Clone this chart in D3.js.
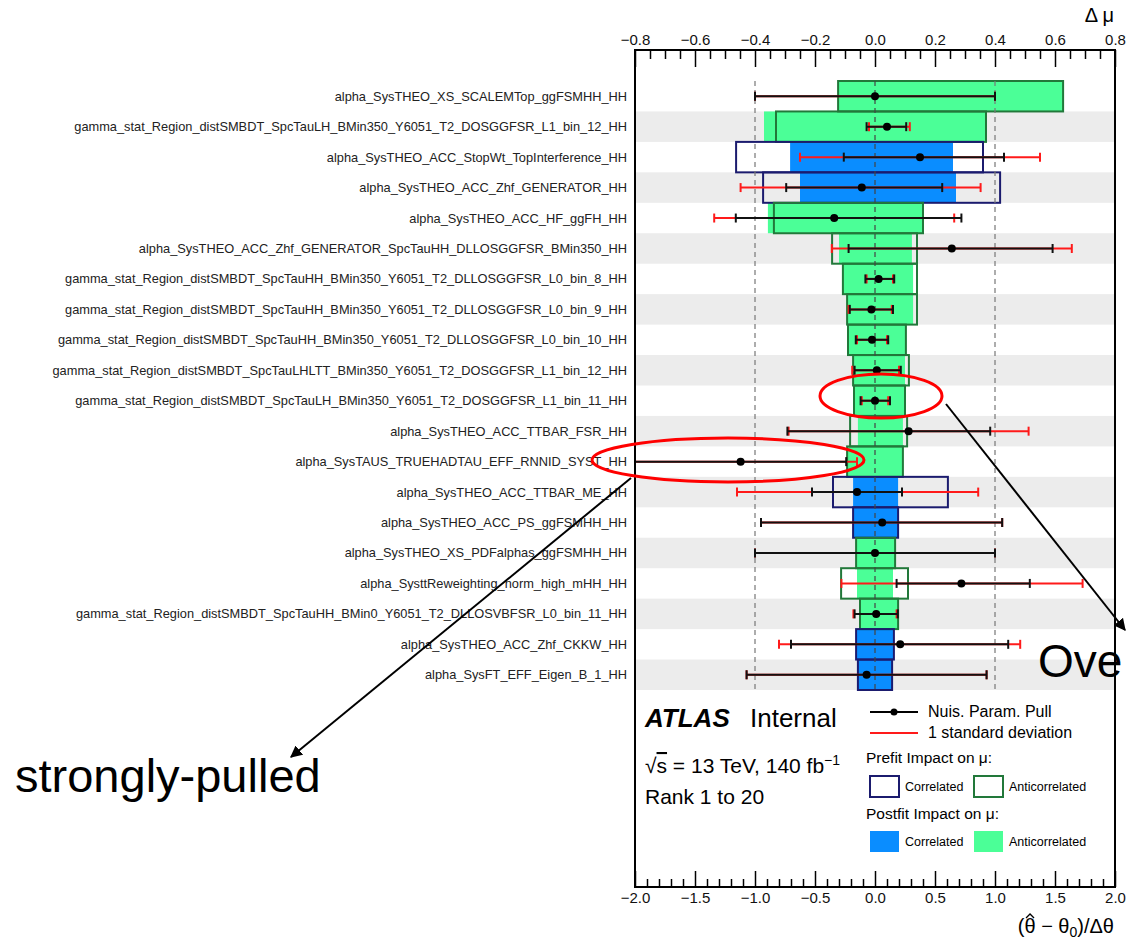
<!DOCTYPE html>
<html>
<head>
<meta charset="utf-8">
<script src="https://cdn.jsdelivr.net/npm/d3@7"></script>
<style>
  body { margin: 0; background: #fff; }
  text { font-family: "Liberation Sans", Arial, Helvetica, sans-serif; }
</style>
</head>
<body>
<div id="chart"></div>
<script>
  // nuisance parameters, ranked 1 to 20
  var labels = [
    "alpha_SysTHEO_XS_SCALEMTop_ggFSMHH_HH",
    "gamma_stat_Region_distSMBDT_SpcTauLH_BMin350_Y6051_T2_DOSGGFSR_L1_bin_12_HH",
    "alpha_SysTHEO_ACC_StopWt_TopInterference_HH",
    "alpha_SysTHEO_ACC_Zhf_GENERATOR_HH",
    "alpha_SysTHEO_ACC_HF_ggFH_HH",
    "alpha_SysTHEO_ACC_Zhf_GENERATOR_SpcTauHH_DLLOSGGFSR_BMin350_HH",
    "gamma_stat_Region_distSMBDT_SpcTauHH_BMin350_Y6051_T2_DLLOSGGFSR_L0_bin_8_HH",
    "gamma_stat_Region_distSMBDT_SpcTauHH_BMin350_Y6051_T2_DLLOSGGFSR_L0_bin_9_HH",
    "gamma_stat_Region_distSMBDT_SpcTauHH_BMin350_Y6051_T2_DLLOSGGFSR_L0_bin_10_HH",
    "gamma_stat_Region_distSMBDT_SpcTauLHLTT_BMin350_Y6051_T2_DOSGGFSR_L1_bin_12_HH",
    "gamma_stat_Region_distSMBDT_SpcTauLH_BMin350_Y6051_T2_DOSGGFSR_L1_bin_11_HH",
    "alpha_SysTHEO_ACC_TTBAR_FSR_HH",
    "alpha_SysTAUS_TRUEHADTAU_EFF_RNNID_SYST_HH",
    "alpha_SysTHEO_ACC_TTBAR_ME_HH",
    "alpha_SysTHEO_ACC_PS_ggFSMHH_HH",
    "alpha_SysTHEO_XS_PDFalphas_ggFSMHH_HH",
    "alpha_SysttReweighting_norm_high_mHH_HH",
    "gamma_stat_Region_distSMBDT_SpcTauHH_BMin0_Y6051_T2_DLLOSVBFSR_L0_bin_11_HH",
    "alpha_SysTHEO_ACC_Zhf_CKKW_HH",
    "alpha_SysFT_EFF_Eigen_B_1_HH"
  ];

  // correlated (blue) or anticorrelated (green) impact
  var impactType = ["anti", "anti", "corr", "corr", "anti", "anti", "anti", "anti", "anti", "anti",
                    "anti", "anti", "anti", "corr", "corr", "anti", "anti", "anti", "corr", "corr"];

  // impact on mu (top axis)
  var prefitLo  = [-0.123, -0.33, -0.463, -0.373, -0.337, -0.143, -0.107, -0.093, -0.09, -0.073,
                   -0.07, -0.083, -0.093, -0.14, -0.073, -0.063, -0.113, -0.05, -0.063, -0.057];
  var prefitHi  = [0.627, 0.37, 0.36, 0.417, 0.16, 0.14, 0.14, 0.14, 0.103, 0.113,
                   0.1, 0.107, 0.093, 0.243, 0.077, 0.067, 0.11, 0.077, 0.063, 0.057];
  var postfitLo = [-0.123, -0.37, -0.283, -0.25, -0.357, -0.12, -0.107, -0.093, -0.09, -0.073,
                   -0.07, -0.057, -0.09, -0.073, -0.073, -0.063, -0.06, -0.05, -0.063, -0.057];
  var postfitHi = [0.627, 0.37, 0.26, 0.27, 0.16, 0.123, 0.127, 0.127, 0.1, 0.1,
                   0.1, 0.093, 0.093, 0.077, 0.077, 0.067, 0.06, 0.077, 0.06, 0.057];

  // pulls (bottom axis)
  var pullVal = [0.0, 0.10, 0.375, -0.11, -0.34, 0.64, 0.03, -0.03, -0.025, 0.015,
                 0.0, 0.28, -1.12, -0.15, 0.06, 0.0, 0.72, 0.01, 0.21, -0.07];
  var pullLo  = [-1.0, -0.07, -0.26, -0.74, -1.16, -0.22, -0.08, -0.21, -0.16, -0.17,
                 -0.12, -0.73, -2.0, -0.525, -0.95, -1.0, 0.18, -0.17, -0.7, -1.07];
  var pullHi  = [1.0, 0.26, 1.075, 0.56, 0.72, 1.48, 0.16, 0.15, 0.11, 0.215,
                 0.125, 0.96, -0.24, 0.225, 1.06, 1.0, 1.29, 0.19, 1.11, 0.93];
  var sdLo    = [-1.0, -0.05, -0.625, -1.12, -1.34, -0.36, -0.07, -0.22, -0.15, -0.19,
                 -0.11, -0.72, -2.0, -1.15, -0.95, -1.0, -0.28, -0.18, -0.8, -1.07];
  var sdHi    = [1.0, 0.29, 1.375, 0.88, 0.66, 1.64, 0.15, 0.14, 0.10, 0.2,
                 0.11, 1.28, -0.15, 0.86, 1.06, 1.0, 1.73, 0.18, 1.21, 0.93];

  var impactTicks = [-0.8, -0.6, -0.4, -0.2, 0.0, 0.2, 0.4, 0.6, 0.8];
  var pullTicks = [-2.0, -1.5, -1.0, -0.5, 0.0, 0.5, 1.0, 1.5, 2.0];

  var colors = {
    corrFill: "#0a8dff",
    antiFill: "#4bff97",
    corrLine: "#1b1b6e",
    antiLine: "#22783a",
    band: "#ececec"
  };

  var svgWidth = 1127;
  var svgHeight = 943;
  var frame = { left: 635, right: 1115, top: 50, bottom: 887 };

  var svg = d3.select("#chart")
    .append("svg")
    .attr("width", svgWidth)
    .attr("height", svgHeight);

  var xImpact = d3.scaleLinear().domain([-0.8, 0.8]).range([frame.left, frame.right]);
  var xPull = d3.scaleLinear().domain([-2, 2]).range([frame.left, frame.right]);
  var y = d3.scaleBand().domain(d3.range(labels.length)).range([81, 690]);
  var bw = y.bandwidth();
  var cy = i => y(i) + bw / 2;

  // alternating grey bands
  svg.selectAll("rect.band")
    .data(d3.range(labels.length).filter(i => i % 2 == 1))
    .enter()
    .append("rect")
    .attr("class", "band")
    .attr("x", frame.left)
    .attr("y", d => y(d))
    .attr("width", frame.right - frame.left)
    .attr("height", bw)
    .attr("fill", colors.band);

  var rows = d3.range(labels.length);

  // postfit impact (filled)
  svg.selectAll("rect.post")
    .data(rows)
    .enter()
    .append("rect")
    .attr("class", "post")
    .attr("x", i => xImpact(postfitLo[i]))
    .attr("y", i => y(i))
    .attr("width", i => xImpact(postfitHi[i]) - xImpact(postfitLo[i]))
    .attr("height", bw)
    .attr("fill", i => impactType[i] == "corr" ? colors.corrFill : colors.antiFill);

  // prefit impact (outlined)
  svg.selectAll("rect.pre")
    .data(rows)
    .enter()
    .append("rect")
    .attr("class", "pre")
    .attr("x", i => xImpact(prefitLo[i]))
    .attr("y", i => y(i))
    .attr("width", i => xImpact(prefitHi[i]) - xImpact(prefitLo[i]))
    .attr("height", bw)
    .attr("fill", "none")
    .attr("stroke-width", 2)
    .attr("stroke", i => impactType[i] == "corr" ? colors.corrLine : colors.antiLine);

  // dashed guide lines at -1, 0, +1 sigma
  svg.selectAll("line.guide")
    .data([-1, 0, 1])
    .enter()
    .append("line")
    .attr("x1", d => xPull(d))
    .attr("x2", d => xPull(d))
    .attr("y1", y.range()[0])
    .attr("y2", y.range()[1])
    .attr("stroke", d => d == 0 ? "#444" : "#777")
    .attr("stroke-width", 1.2)
    .attr("stroke-dasharray", "5,4");

  function errorBars(lo, hi, color) {
    var g = svg.append("g").attr("stroke", color).attr("stroke-width", 2);
    g.selectAll("line.h")
      .data(rows)
      .enter()
      .append("line")
      .attr("x1", i => xPull(lo[i]))
      .attr("x2", i => xPull(hi[i]))
      .attr("y1", cy)
      .attr("y2", cy);
    g.selectAll("line.capl")
      .data(rows)
      .enter()
      .append("line")
      .attr("x1", i => xPull(lo[i]))
      .attr("x2", i => xPull(lo[i]))
      .attr("y1", i => cy(i) - 4.5)
      .attr("y2", i => cy(i) + 4.5);
    g.selectAll("line.caph")
      .data(rows)
      .enter()
      .append("line")
      .attr("x1", i => xPull(hi[i]))
      .attr("x2", i => xPull(hi[i]))
      .attr("y1", i => cy(i) - 4.5)
      .attr("y2", i => cy(i) + 4.5);
  }
  errorBars(sdLo, sdHi, "#ff1a1a");
  errorBars(pullLo, pullHi, "#111");

  svg.selectAll("circle.pull")
    .data(rows)
    .enter()
    .append("circle")
    .attr("cx", i => xPull(pullVal[i]))
    .attr("cy", cy)
    .attr("r", 4)
    .attr("fill", "#000");

  // parameter names
  svg.selectAll("text.np")
    .data(rows)
    .enter()
    .append("text")
    .attr("class", "np")
    .attr("x", 627)
    .attr("y", cy)
    .attr("dy", "0.35em")
    .attr("text-anchor", "end")
    .attr("font-size", "12.8px")
    .attr("fill", "#222")
    .text(i => labels[i]);

  // axes
  var fmt = d3.format(".1f");
  var minorImpact = d3.range(-16, 17).map(k => k * 0.05).filter((d, k) => k % 4 != 0);
  var minorPull = d3.range(-20, 21).map(k => k * 0.1).filter((d, k) => k % 5 != 0);

  svg.append("g")
    .attr("transform", `translate(0, ${frame.top})`)
    .call(d3.axisTop(xImpact).tickValues(impactTicks).tickFormat(fmt)
      .tickSizeInner(-17).tickSizeOuter(0).tickPadding(5));
  svg.append("g")
    .attr("transform", `translate(0, ${frame.top})`)
    .call(d3.axisTop(xImpact).tickValues(minorImpact).tickFormat("")
      .tickSizeInner(-9).tickSizeOuter(0));

  svg.append("g")
    .attr("transform", `translate(0, ${frame.bottom})`)
    .call(d3.axisBottom(xPull).tickValues(pullTicks).tickFormat(fmt)
      .tickSizeInner(-16).tickSizeOuter(0).tickPadding(5));
  svg.append("g")
    .attr("transform", `translate(0, ${frame.bottom})`)
    .call(d3.axisBottom(xPull).tickValues(minorPull).tickFormat("")
      .tickSizeInner(-8).tickSizeOuter(0));

  svg.selectAll(".domain").remove();
  svg.selectAll(".tick line").attr("stroke", "#000").attr("stroke-width", 1.5);
  svg.selectAll(".tick text")
    .attr("font-family", '"Liberation Sans", Arial, sans-serif')
    .attr("font-size", "15px")
    .attr("fill", "#111");

  // frame
  svg.append("rect")
    .attr("x", frame.left)
    .attr("y", frame.top)
    .attr("width", frame.right - frame.left)
    .attr("height", frame.bottom - frame.top)
    .attr("fill", "none")
    .attr("stroke", "#000")
    .attr("stroke-width", 2);

  // axis titles
  svg.append("text")
    .attr("x", 1114)
    .attr("y", 22)
    .attr("text-anchor", "end")
    .attr("font-size", "20px")
    .text("\u0394 \u03bc");

  var xt = svg.append("text")
    .attr("x", 1114)
    .attr("y", 933)
    .attr("text-anchor", "end")
    .attr("font-size", "20px");
  xt.append("tspan").text("(\u03b8 \u2212 \u03b8");
  xt.append("tspan").attr("dy", 4).attr("font-size", "14px").text("0");
  xt.append("tspan").attr("dy", -4).text(")/\u0394\u03b8");
  // hat over the first theta
  var th = xt.node().getExtentOfChar(1);
  var hx = th.x + th.width / 2;
  svg.append("path")
    .attr("d", `M${hx - 4},${th.y + 3} L${hx},${th.y - 1} L${hx + 4},${th.y + 3}`)
    .attr("fill", "none")
    .attr("stroke", "#000")
    .attr("stroke-width", 1.3);

  // ATLAS label block
  svg.append("text")
    .attr("x", 645).attr("y", 727)
    .attr("font-size", "26px").attr("font-weight", "bold").attr("font-style", "italic")
    .text("ATLAS");
  svg.append("text")
    .attr("x", 750).attr("y", 727)
    .attr("font-size", "26px")
    .text("Internal");

  var ecm = svg.append("text")
    .attr("x", 645).attr("y", 773)
    .attr("font-size", "21px");
  ecm.append("tspan").text("\u221a");
  ecm.append("tspan").attr("text-decoration", "overline").text("s");
  ecm.append("tspan").text(" = 13 TeV, 140 fb");
  ecm.append("tspan").attr("dy", -8).attr("font-size", "14px").text("\u22121");

  svg.append("text")
    .attr("x", 645).attr("y", 804)
    .attr("font-size", "21px")
    .text("Rank 1 to 20");

  // legend
  var leg = svg.append("g");
  leg.append("line").attr("x1", 870).attr("x2", 918).attr("y1", 712).attr("y2", 712)
    .attr("stroke", "#000").attr("stroke-width", 2);
  leg.append("circle").attr("cx", 894).attr("cy", 712).attr("r", 3.5).attr("fill", "#000");
  leg.append("text").attr("x", 928).attr("y", 717).attr("font-size", "16px").text("Nuis. Param. Pull");
  leg.append("line").attr("x1", 870).attr("x2", 918).attr("y1", 733).attr("y2", 733)
    .attr("stroke", "#ff1a1a").attr("stroke-width", 2);
  leg.append("text").attr("x", 928).attr("y", 738).attr("font-size", "16px").text("1 standard deviation");

  leg.append("text").attr("x", 866).attr("y", 763).attr("font-size", "15.5px").text("Prefit Impact on \u03bc:");
  leg.append("text").attr("x", 866).attr("y", 819).attr("font-size", "15.5px").text("Postfit Impact on \u03bc:");

  var boxes = [
    { x: 870, y: 776, fill: "none", stroke: colors.corrLine, text: "Correlated" },
    { x: 974, y: 776, fill: "none", stroke: colors.antiLine, text: "Anticorrelated" },
    { x: 870, y: 831, fill: colors.corrFill, stroke: "none", text: "Correlated" },
    { x: 974, y: 831, fill: colors.antiFill, stroke: "none", text: "Anticorrelated" }
  ];
  leg.selectAll("rect.key")
    .data(boxes)
    .enter()
    .append("rect")
    .attr("x", d => d.x).attr("y", d => d.y)
    .attr("width", 29).attr("height", 21)
    .attr("fill", d => d.fill)
    .attr("stroke", d => d.stroke)
    .attr("stroke-width", 2);
  leg.selectAll("text.key")
    .data(boxes)
    .enter()
    .append("text")
    .attr("x", d => d.x + 35).attr("y", d => d.y + 15)
    .attr("font-size", "12.5px")
    .text(d => d.text);

  // annotations drawn on top of the plot
  var defs = svg.append("defs");
  defs.append("marker")
    .attr("id", "arrow")
    .attr("viewBox", "0 0 10 10")
    .attr("refX", 9).attr("refY", 5)
    .attr("markerWidth", 6).attr("markerHeight", 6)
    .attr("markerUnits", "strokeWidth")
    .attr("orient", "auto")
    .append("path")
    .attr("d", "M0,0 L10,5 L0,10 z")
    .attr("fill", "#000");

  svg.append("ellipse")
    .attr("cx", 881).attr("cy", 396).attr("rx", 61).attr("ry", 22)
    .attr("fill", "none").attr("stroke", "#ff0000").attr("stroke-width", 3);
  svg.append("ellipse")
    .attr("cx", 728).attr("cy", 460).attr("rx", 136).attr("ry", 22)
    .attr("fill", "none").attr("stroke", "#ff0000").attr("stroke-width", 3);

  svg.append("line")
    .attr("x1", 631).attr("y1", 478).attr("x2", 291).attr("y2", 757)
    .attr("stroke", "#000").attr("stroke-width", 2)
    .attr("marker-end", "url(#arrow)");
  svg.append("line")
    .attr("x1", 946).attr("y1", 404).attr("x2", 1125).attr("y2", 630)
    .attr("stroke", "#000").attr("stroke-width", 2)
    .attr("marker-end", "url(#arrow)");

  svg.append("text")
    .attr("x", 15).attr("y", 792)
    .attr("font-size", "47px")
    .text("strongly-pulled");
  svg.append("text")
    .attr("x", 1038).attr("y", 677)
    .attr("font-size", "46px")
    .text("Ove");
</script>
</body>
</html>
